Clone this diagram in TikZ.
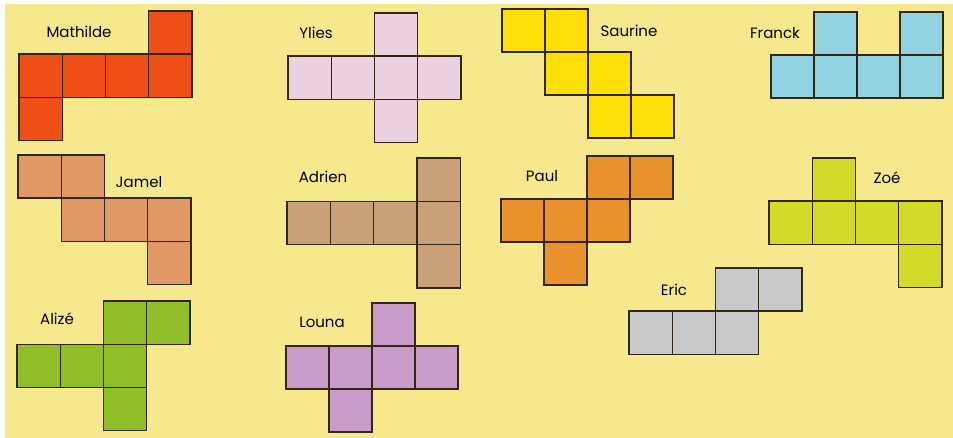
\documentclass[tikz,border=0pt]{standalone}
\usepackage{fontspec}
\setmainfont{Poppins}
\definecolor{bgyel}{RGB}{246,232,140}
\definecolor{edge}{RGB}{50,38,22}
\definecolor{cMath}{RGB}{238,80,24}
\definecolor{cYlies}{RGB}{235,208,224}
\definecolor{cSaur}{RGB}{252,222,8}
\definecolor{cFranck}{RGB}{146,211,226}
\definecolor{cJamel}{RGB}{224,152,100}
\definecolor{cAdrien}{RGB}{202,160,120}
\definecolor{cPaul}{RGB}{232,145,45}
\definecolor{cZoe}{RGB}{212,218,40}
\definecolor{cAlize}{RGB}{143,190,40}
\definecolor{cLouna}{RGB}{201,155,200}
\definecolor{cEric}{RGB}{200,201,202}
\tikzset{
  facecell/.style={draw=edge, line width=1.4pt, line join=miter},
  namelabel/.style={font=\fontsize{15}{17}\selectfont, text=black, inner sep=0pt}
}
% \netcell{x0}{y0}{size}{col}{row}{colour}
\newcommand\netcell[6]{\filldraw[facecell, fill=#6] ({#1+#4*#3},{#2+#5*#3}) rectangle ++(#3,#3);}
\begin{document}
\begin{tikzpicture}[x=1pt,y=-1pt]
\useasboundingbox (0,0) rectangle (953,438);
\fill[white] (0,0) rectangle (953,438);
\fill[bgyel] (5,4) rectangle (953,438);
% Mathilde
\foreach \c/\r in {0/1,1/1,2/1,3/1,3/0,0/2} {\netcell{19}{11}{43.2}{\c}{\r}{cMath}}
\node[namelabel] (lMath) at (79,32) {Mathilde};
% Ylies
\foreach \c/\r in {2/0,0/1,1/1,2/1,3/1,2/2} {\netcell{288}{13}{43.2}{\c}{\r}{cYlies}}
\node[namelabel] (lYlies) at (316,33) {Ylies};
% Saurine
\foreach \c/\r in {0/0,1/0,1/1,2/1,2/2,3/2} {\netcell{502}{9}{43}{\c}{\r}{cSaur}}
\node[namelabel] (lSaur) at (629,31) {Saurine};
% Franck
\foreach \c/\r in {1/0,3/0,0/1,1/1,2/1,3/1} {\netcell{771}{12}{43}{\c}{\r}{cFranck}}
\node[namelabel] (lFranck) at (775,33) {Franck};
% Jamel
\foreach \c/\r in {0/0,1/0,1/1,2/1,3/1,3/2} {\netcell{18}{155}{43.2}{\c}{\r}{cJamel}}
\node[namelabel] (lJamel) at (139,182) {Jamel};
% Adrien
\foreach \c/\r in {3/0,0/1,1/1,2/1,3/1,3/2} {\netcell{287}{158}{43.3}{\c}{\r}{cAdrien}}
\node[namelabel] (lAdrien) at (323,177) {Adrien};
% Paul
\foreach \c/\r in {2/0,3/0,0/1,1/1,2/1,1/2} {\netcell{501}{156}{43}{\c}{\r}{cPaul}}
\node[namelabel] (lPaul) at (542,176) {Paul};
% Zoe
\foreach \c/\r in {1/0,0/1,1/1,2/1,3/1,3/2} {\netcell{769}{158}{43.2}{\c}{\r}{cZoe}}
\node[namelabel] (lZoe) at (887,178) {Zoé};
% Alize
\foreach \c/\r in {2/0,3/0,0/1,1/1,2/1,2/2} {\netcell{17}{301}{43.2}{\c}{\r}{cAlize}}
\node[namelabel] (lAlize) at (57,319) {Alizé};
% Louna
\foreach \c/\r in {2/0,0/1,1/1,2/1,3/1,1/2} {\netcell{286}{303}{43}{\c}{\r}{cLouna}}
\node[namelabel] (lLouna) at (322,322) {Louna};
% Eric
\foreach \c/\r in {2/0,3/0,0/1,1/1,2/1} {\netcell{629}{268}{43.2}{\c}{\r}{cEric}}
\node[namelabel] (lEric) at (674,290) {Eric};
\end{tikzpicture}
\end{document}
